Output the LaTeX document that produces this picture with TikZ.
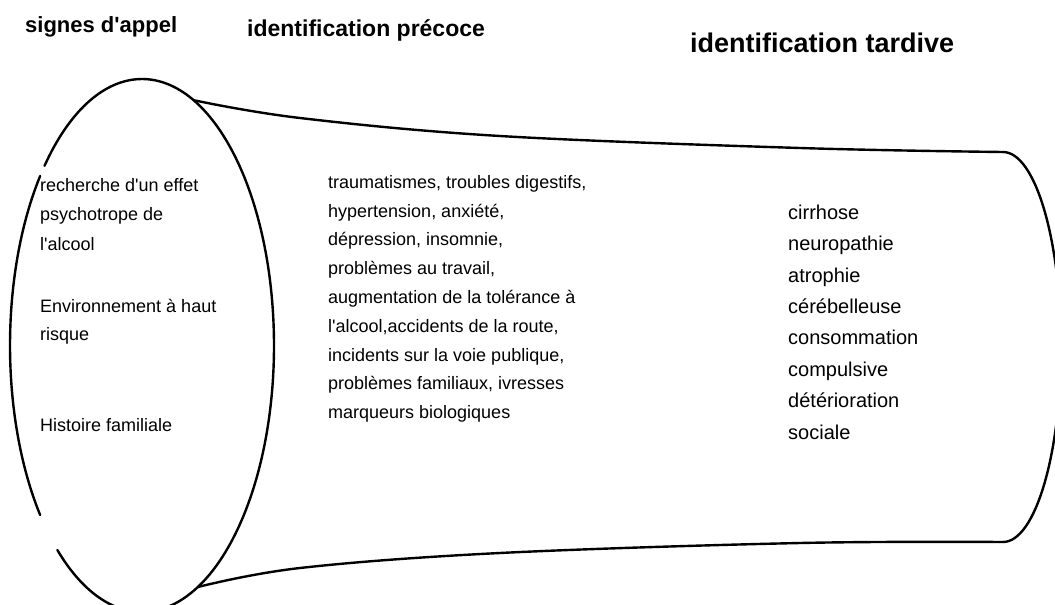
\documentclass[tikz,border=0pt]{standalone}
\usepackage{fontspec}
\setmainfont{Liberation Sans}
\newcommand\ap{\textquotesingle}
\begin{document}
\begin{tikzpicture}[x=1pt,y=-1pt,
  outline/.style={line width=2.4pt, line cap=round, line join=round},
  titletxt/.style={anchor=base west, inner sep=0pt, font=\bfseries\fontsize{22}{26}\selectfont},
  block/.style={anchor=north west, inner sep=0pt, align=left}
]
\useasboundingbox (0,0) rectangle (1055,605);
\clip (0,0) rectangle (1055,605);
% left ellipse (mouth of the funnel)
\coordinate (ec) at (142,345.5);
\draw[outline] ([shift={(140.5:132 and 266.5)}]ec) arc[start angle=140.5, end angle=219.5, x radius=132, y radius=266.5];
\draw[outline] ([shift={(222.4:132 and 266.5)}]ec) arc[start angle=222.4, end angle=489.9, x radius=132, y radius=266.5];
% junction points
\coordinate (tl) at ([shift={(293:132 and 266.5)}]ec);
\coordinate (bl) at ([shift={(65:132 and 266.5)}]ec);
\coordinate (tr) at (1003,152);
\coordinate (br) at (1003,542);
% funnel sides
\draw[outline] plot[smooth, tension=0.6] coordinates {(tl) (300,118) (500,136) (800,148) (tr)};
\draw[outline] plot[smooth, tension=0.6] coordinates {(bl) (300,568) (500,553) (800,543) (br)};
% right end
\draw[outline] (tr) arc[start angle=-90, end angle=90, x radius=58, y radius=195];
% titles
\node[titletxt] (t1) at (25,32) {signes d\ap appel};
\node[titletxt, font=\bfseries\fontsize{23}{27}\selectfont] (t2) at (247,36) {identification précoce};
\node[titletxt, font=\bfseries\fontsize{27}{31}\selectfont] (t3) at (690,52) {identification tardive};
% left texts
\node[block, font=\fontsize{18}{29.5}\selectfont] (l1) at (40,170.35)
  {\strut recherche d\ap un effet\\psychotrope de\\l\ap alcool};
\node[block, font=\fontsize{18}{28.5}\selectfont] (l2) at (40,292.05)
  {\strut Environnement à haut\\risque};
\node[anchor=base west, inner sep=0pt, font=\fontsize{18}{28}\selectfont] (l3) at (40,431) {Histoire familiale};
% middle texts
\node[block, font=\fontsize{18}{28.8}\selectfont] (m) at (328,167.84)
  {\strut traumatismes, troubles digestifs,\\hypertension, anxiété,\\dépression, insomnie,\\problèmes au travail,\\augmentation de la tolérance à\\l\ap alcool,accidents de la route,\\incidents sur la voie publique,\\problèmes familiaux, ivresses\\marqueurs biologiques};
% right texts
\node[block, font=\fontsize{20}{31.4}\selectfont] (r) at (788,197.02)
  {\strut cirrhose\\neuropathie\\atrophie\\cérébelleuse\\consommation\\compulsive\\détérioration\\sociale};
\end{tikzpicture}
\end{document}
